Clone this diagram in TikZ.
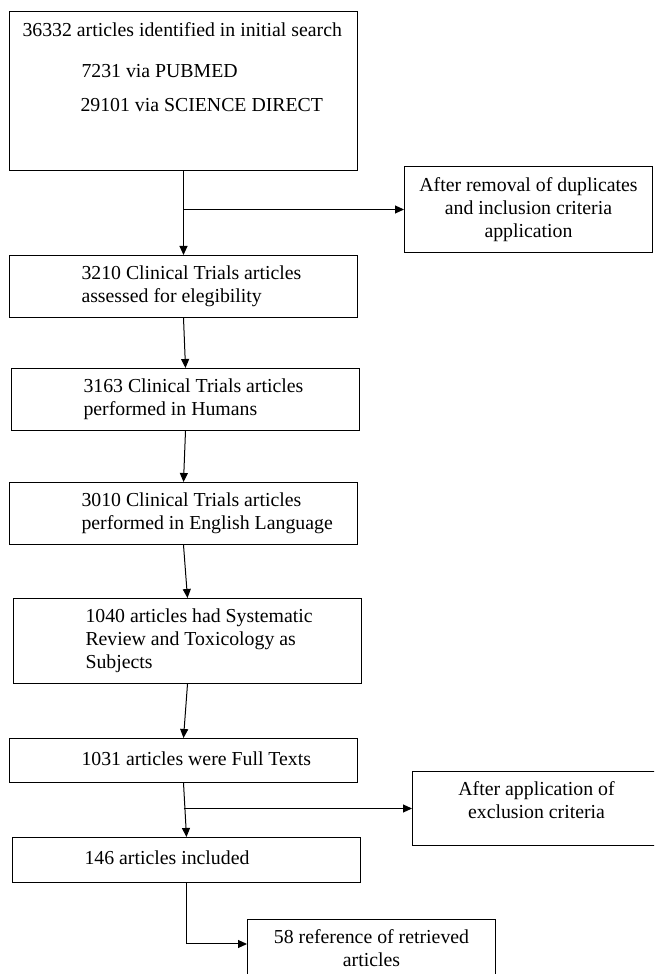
\documentclass[tikz,border=0pt]{standalone}
\usepackage{fontspec}
\setmainfont{Liberation Serif}
\usetikzlibrary{positioning}
\usetikzlibrary{arrows.meta}

\newcommand{\lefttext}[1]{\hspace*{64pt}\parbox{268pt}{\strut #1\strut}}

\begin{document}
\begin{tikzpicture}[x=1pt, y=1pt,
  box/.style={draw, line width=1pt, anchor=north west, inner xsep=8pt, inner ysep=0pt,
    minimum width=348pt, font=\fontsize{19.8}{23}\selectfont},
  sidebox/.style={draw, line width=1pt, anchor=north west, inner sep=0pt,
    minimum width=248pt, align=center, font=\fontsize{19.8}{23}\selectfont},
  arr/.style={line width=1pt, -{Triangle[length=9pt, width=8pt]}}]
\useasboundingbox (0,0) rectangle (654,974);
\clip (0,0) rectangle (654,974);

\node[box, minimum height=159pt, inner ysep=6pt] (search) at (9,963)
  {\parbox[c][147pt][t]{332pt}{\rule{0pt}{19pt}\hspace*{5pt}36332 articles identified in initial search\\[18pt]
   \hspace*{64pt}7231 via PUBMED\\[11pt]
   \hspace*{63pt}29101 via SCIENCE DIRECT}};
\node[box, minimum height=62pt] (elig) at (9,719)
  {\lefttext{3210 Clinical Trials articles\\assessed for elegibility}};
\node[box, minimum height=62pt] (humans) at (11,606)
  {\lefttext{3163 Clinical Trials articles\\performed in Humans}};
\node[box, minimum height=62pt] (english) at (9,492)
  {\lefttext{3010 Clinical Trials articles\\performed in English Language}};
\node[box, minimum height=85pt] (subjects) at (13,376)
  {\lefttext{1040 articles had Systematic\\Review and Toxicology as\\Subjects}};
\node[box, minimum height=44pt] (fulltext) at (9,236)
  {\lefttext{1031 articles were Full Texts}};
\node[box, minimum height=45pt] (included) at (12,137)
  {\lefttext{146 articles included}};

\node[sidebox, minimum height=86pt] (dupl) at (404,808)
  {After removal of duplicates\\and inclusion criteria\\application};
\node[sidebox, minimum height=74pt, text depth=17pt] (excl) at (412,203)
  {After application of\\exclusion criteria};
\node[sidebox, minimum height=74pt, text depth=17pt] (retrieved) at (247,55)
  {58 reference of retrieved\\articles};

\draw[arr] (search.south) -- (elig.north);
\draw[arr] (search.south |- dupl.west) -- (dupl.west);
\draw[arr] (elig.south) -- (humans.north);
\draw[arr] (humans.south) -- (english.north);
\draw[arr] (english.south) -- (subjects.north);
\draw[arr] (subjects.south) -- (fulltext.north);
\draw[arr] (fulltext.south) -- (included.north);
\draw[arr] (fulltext.south |- excl.west) -- (excl.west);
\draw[arr] (included.south) |- ([yshift=-25pt]retrieved.north west);
\end{tikzpicture}
\end{document}
